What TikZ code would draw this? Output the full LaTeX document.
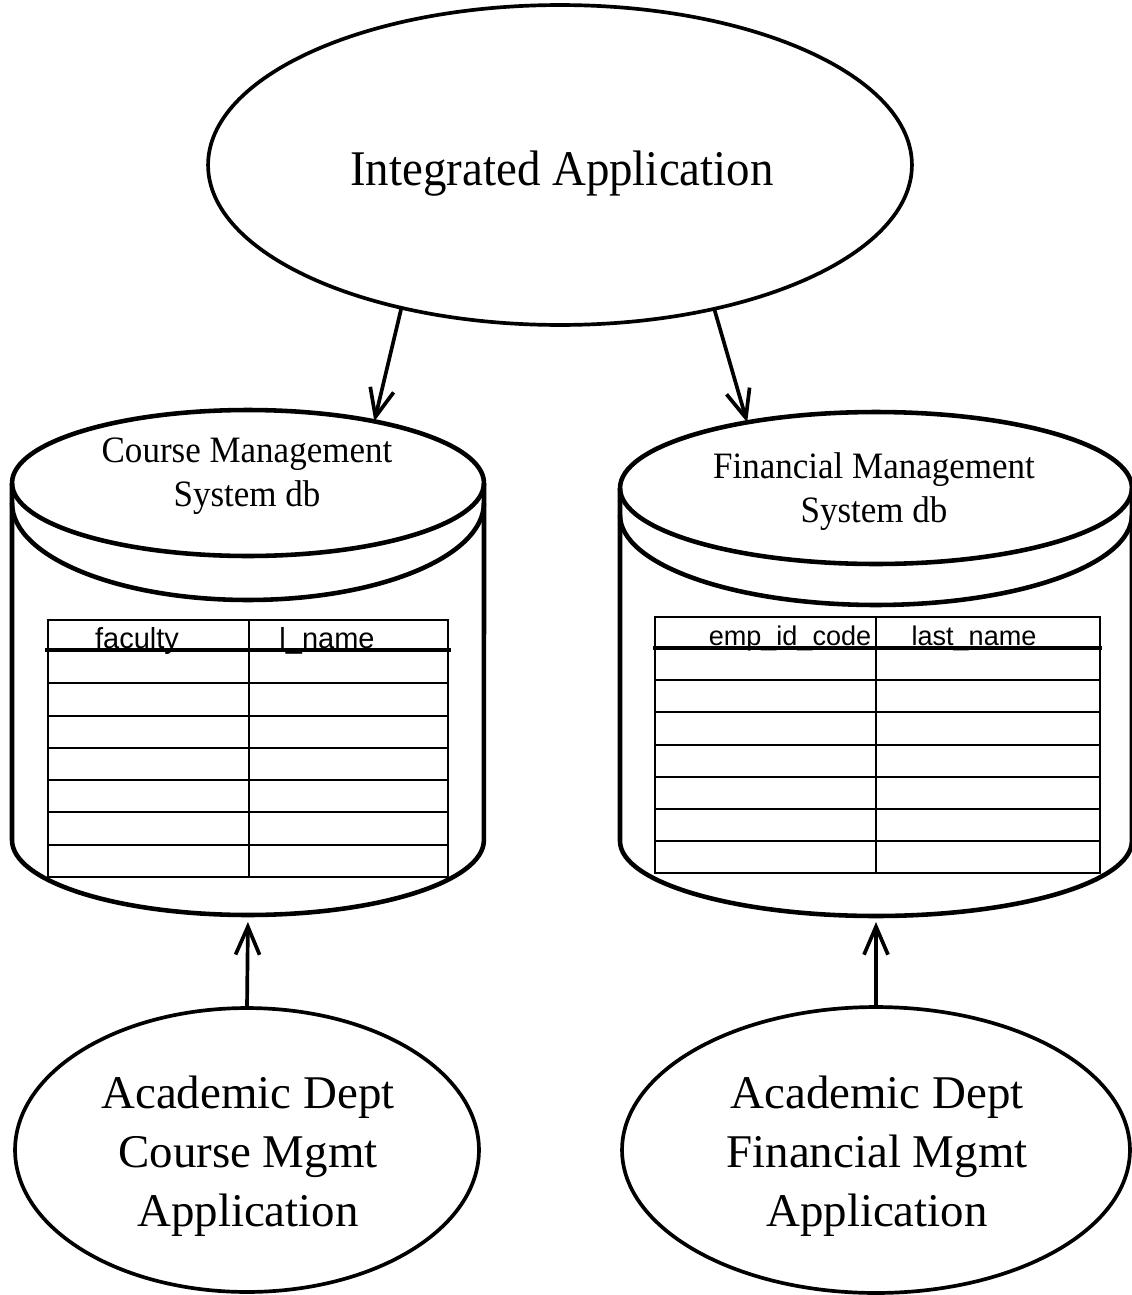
\documentclass[tikz,border=0pt]{standalone}
\usepackage{fontspec}
\setmainfont{Liberation Serif}
\newfontfamily\condfont[FakeStretch=0.94]{Liberation Serif}
\newfontfamily\hdrfont{Liberation Sans}
\usetikzlibrary{shapes.geometric,arrows.meta}
\tikzset{
  ell/.style={draw, ellipse, line width=2.1pt, outer sep=0pt, inner sep=0pt},
  cylline/.style={line width=2.6pt, line join=round},
  tbl/.style={line width=1.3pt},
  hdrline/.style={line width=2.3pt},
  arr/.style={line width=2.1pt, -{Straight Barb[length=5.6mm 0, width=4.8mm 0]}},
  bigtxt/.style={font=\fontsize{26.7}{33.6}\selectfont, align=center, inner sep=0pt},
  toptxt/.style={font=\condfont\fontsize{28.4}{34}\selectfont, align=center, inner sep=0pt},
  dbtxt/.style={font=\condfont\fontsize{21.2}{25}\selectfont, align=center, inner sep=0pt},
  hdrL/.style={font=\hdrfont\fontsize{16.5}{18}\selectfont, anchor=base, inner sep=0pt},
  hdrR/.style={font=\hdrfont\fontsize{15.4}{17}\selectfont, anchor=base, inner sep=0pt}
}
\begin{document}
\begin{tikzpicture}[x=0.02cm, y=-0.02cm]
\useasboundingbox (0,0) rectangle (1132,1295);

% top application
\node[ell, minimum width=14.08cm, minimum height=6.4cm] (ia) at (560,165) {};
\node[toptxt] (iatxt) at (562,173.5) {Integrated Application};

% left cylinder
\node[ell, line width=2.6pt, minimum width=9.44cm, minimum height=2.92cm] (cmstop) at (248,483) {};
\draw[cylline] (12,483) -- (12,840) arc[start angle=180, end angle=360, x radius=4.72cm, y radius=1.5cm] -- (484,483);
\draw[cylline] (12,503) arc[start angle=180, end angle=360, x radius=4.72cm, y radius=1.94cm];
\coordinate (cmsbot) at (248,915);
\node[dbtxt] (cmstxt) at (247,476) {Course Management\\System db};
% left table
\draw[tbl] (48,620) rectangle (448,877);
\draw[tbl] (249,620) -- (249,877);
\foreach \yy in {683,716,748,780,812,845} \draw[tbl] (48,\yy) -- (448,\yy);
\draw[hdrline] (45,650) -- (451,650);
\node[hdrL] (h1) at (137,648) {faculty};
\node[hdrL] (h2) at (327,648) {l\_name};

% right cylinder
\node[ell, line width=2.6pt, minimum width=10.24cm, minimum height=3.04cm] (fmstop) at (876,488) {};
\draw[cylline] (620,488) -- (620,841) arc[start angle=180, end angle=360, x radius=5.12cm, y radius=1.5cm] -- (1132,488);
\draw[cylline] (620,515) arc[start angle=180, end angle=360, x radius=5.12cm, y radius=1.8cm];
\coordinate (fmsbot) at (876,916);
\node[dbtxt] (fmstxt) at (874,492) {Financial Management\\System db};
% right table
\draw[tbl] (655,617) rectangle (1100,873);
\draw[tbl] (876,617) -- (876,873);
\foreach \yy in {680,712,745,777,809,841} \draw[tbl] (655,\yy) -- (1100,\yy);
\draw[hdrline] (653,648) -- (1102,648);
\node[hdrR] (h3) at (790,645) {emp\_id\_code};
\node[hdrR] (h4) at (974,645) {last\_name};

% bottom applications
\node[ell, minimum width=9.28cm, minimum height=5.68cm] (ad1) at (247,1150) {};
\node[bigtxt] (ad1txt) at (248,1156) {Academic Dept\\Course Mgmt\\Application};
\node[ell, minimum width=10.16cm, minimum height=5.72cm] (ad2) at (876,1150) {};
\node[bigtxt] (ad2txt) at (877,1156) {Academic Dept\\Financial Mgmt\\Application};

% connectors
\draw[arr] (ia.222.7) -- (cmstop.26.4);
\draw[arr] (ia.317.5) -- (fmstop.153.3);
\draw[arr, shorten >=0.14cm] (ad1.north) -- (cmsbot);
\draw[arr, shorten >=0.12cm] (ad2.north) -- (fmsbot);
\end{tikzpicture}
\end{document}
